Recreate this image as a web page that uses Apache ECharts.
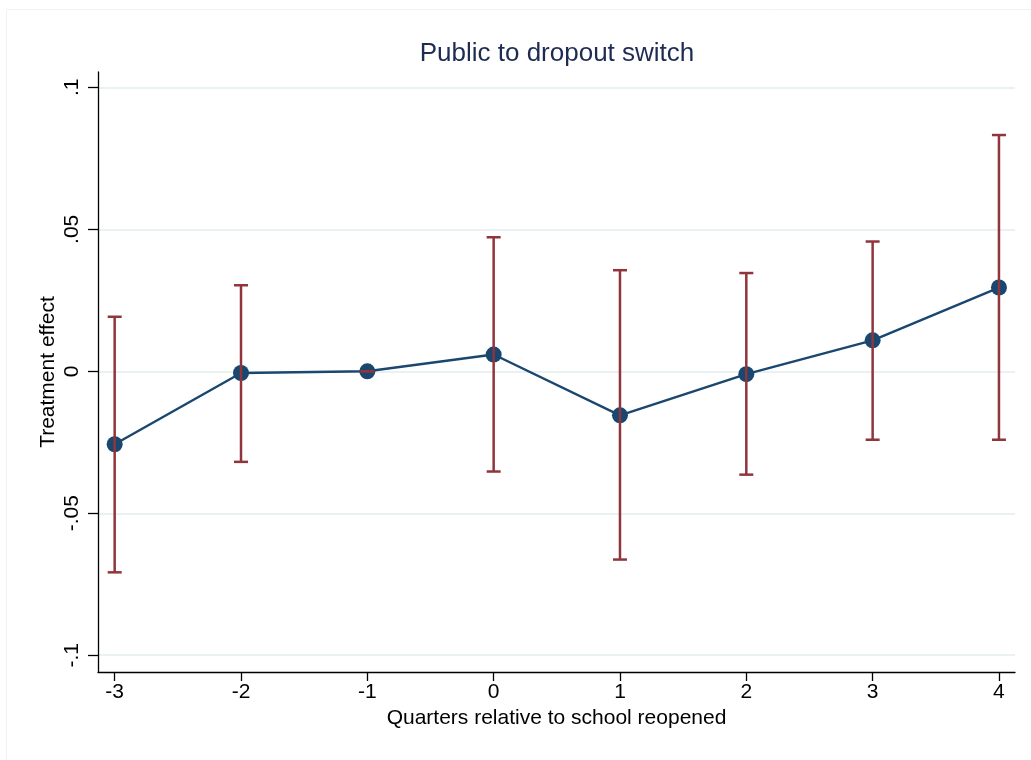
<!DOCTYPE html>
<html>
<head>
<meta charset="utf-8">
<script src="https://cdn.jsdelivr.net/npm/echarts@6/dist/echarts.min.js"></script>
<style>
  html, body { margin: 0; padding: 0; background: #ffffff; }
  #chart { width: 1031px; height: 760px; }
</style>
</head>
<body>
<div id="chart"></div>
<script>
// Event-study estimates: quarters relative to school reopening
const quarters = [-3, -2, -1, 0, 1, 2, 3, 4];
const estimates = [-0.0257, -0.0006, 0.0, 0.0059, -0.0155, -0.0010, 0.0109, 0.0295];
const ciLow = [-0.0708, -0.0319, 0.0, -0.0353, -0.0663, -0.0364, -0.0241, -0.0241];
const ciHigh = [0.0192, 0.0303, 0.0, 0.0472, 0.0356, 0.0346, 0.0457, 0.0832];
const yTicks = [-0.1, -0.05, 0, 0.05, 0.1];
const xTicks = [-3, -2, -1, 0, 1, 2, 3, 4];

const FONT = '"Liberation Sans", Arial, Helvetica, sans-serif';
const NAVY = '#1a476f';
const MAROON = '#90353b';

function fmtY(v) {
  if (Math.abs(v) < 1e-9) return '0';
  let s = String(Math.round(v * 1000) / 1000);
  return s.replace(/^(-?)0\./, '$1.');
}

const chart = echarts.init(document.getElementById('chart'), null, { renderer: 'canvas' });

chart.setOption({
  backgroundColor: '#ffffff',
  animation: false,
  title: {
    text: 'Public to dropout switch',
    left: 552,
    top: 36,
    textAlign: 'center',
    textStyle: { color: '#1e2c54', fontFamily: FONT, fontSize: 26, fontWeight: 'normal' }
  },
  graphic: [{
    type: 'rect',
    shape: { x: 6.5, y: 9.5, width: 1040, height: 770 },
    style: { fill: 'none', stroke: '#edf2f3', lineWidth: 1 },
    silent: true,
    z: -10
  }],
  grid: { left: 98, right: 16, top: 72, bottom: 88, containLabel: false },
  xAxis: {
    type: 'value',
    min: -3.132,
    max: 4.127,
    name: 'Quarters relative to school reopened',
    nameLocation: 'middle',
    nameGap: 36,
    nameMoveOverlap: false,
    nameTextStyle: { color: '#000', fontFamily: FONT, fontSize: 21 },
    axisLine: { show: true, onZero: false, lineStyle: { color: '#000', width: 1.3 } },
    axisTick: { show: true, length: 9, customValues: xTicks, lineStyle: { color: '#000', width: 1.3 } },
    axisLabel: {
      customValues: xTicks, color: '#000', fontFamily: FONT, fontSize: 21, margin: 10,
      formatter: v => String(v)
    },
    splitLine: { show: false }
  },
  yAxis: {
    type: 'value',
    min: -0.1059,
    max: 0.1054,
    name: 'Treatment effect',
    nameLocation: 'middle',
    nameGap: 39,
    nameMoveOverlap: false,
    nameTextStyle: { color: '#000', fontFamily: FONT, fontSize: 21 },
    axisLine: { show: true, onZero: false, lineStyle: { color: '#000', width: 1.3 } },
    axisTick: { show: true, length: 10, customValues: yTicks, lineStyle: { color: '#000', width: 1.3 } },
    axisLabel: {
      customValues: yTicks, rotate: 90, color: '#000', fontFamily: FONT, fontSize: 21, margin: 15,
      formatter: v => fmtY(v)
    },
    splitLine: { show: false }
  },
  series: [
    {
      // horizontal reference grid at the labelled y ticks
      type: 'line',
      data: [],
      silent: true,
      z: 0,
      markLine: {
        silent: true,
        z: 0,
        symbol: ['none', 'none'],
        label: { show: false },
        lineStyle: { color: '#eaf1f3', width: 2, type: 'solid' },
        data: yTicks.map(v => ({ yAxis: v }))
      }
    },
    {
      type: 'line',
      data: quarters.map((q, i) => [q, estimates[i]]),
      symbol: 'circle',
      symbolSize: 16,
      lineStyle: { color: NAVY, width: 2.4 },
      itemStyle: { color: NAVY },
      z: 3
    },
    {
      // 95% confidence intervals drawn as capped spikes
      type: 'custom',
      data: quarters.map((q, i) => [q, ciLow[i], ciHigh[i]]),
      encode: { x: 0, y: [1, 2] },
      z: 4,
      renderItem: function (params, api) {
        const x = api.value(0);
        const lo = api.coord([x, api.value(1)]);
        const hi = api.coord([x, api.value(2)]);
        const half = 7;
        const style = { stroke: MAROON, lineWidth: 2.5, fill: null };
        return {
          type: 'group',
          children: [
            { type: 'line', shape: { x1: lo[0], y1: lo[1], x2: hi[0], y2: hi[1] }, style: style },
            { type: 'line', shape: { x1: lo[0] - half, y1: lo[1], x2: lo[0] + half, y2: lo[1] }, style: style },
            { type: 'line', shape: { x1: hi[0] - half, y1: hi[1], x2: hi[0] + half, y2: hi[1] }, style: style }
          ]
        };
      }
    }
  ]
});
</script>
</body>
</html>
